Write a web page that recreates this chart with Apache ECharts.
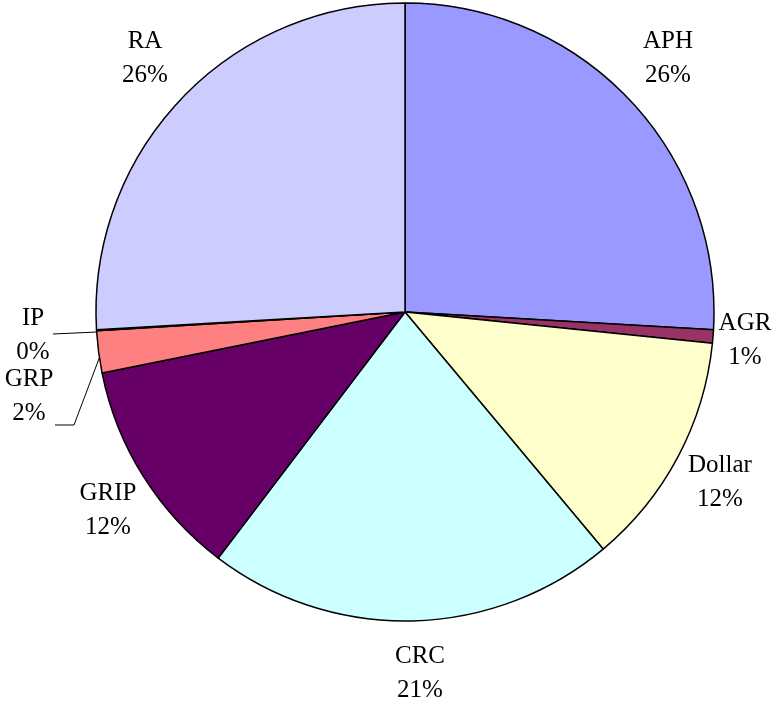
<!DOCTYPE html>
<html style="height: 100%">
<head>
    <meta charset="utf-8">
    <script src="https://cdn.jsdelivr.net/npm/echarts@6/dist/echarts.min.js"></script>
</head>
<body style="height: 100%; margin: 0; background: #fff">
    <div id="main" style="width:779px;height:704px;"></div>
    <script type="text/javascript">
        // data, clockwise from 12 o'clock
        var names = ['APH', 'AGR', 'Dollar', 'CRC', 'GRIP', 'GRP', 'IP', 'RA'];
        var shares = [25.9, 0.7, 12.3, 21.4, 11.5, 2.2, 0.05, 25.9];
        var colors = ['#9999FF', '#993366', '#FFFFCC', '#CCFFFF', '#660066', '#FF8080', '#0066CC', '#CCCCFF'];

        // where each label sits (centre of the two-line text)
        var labelPos = [[668, 58], [745, 340], [720, 482], [420, 673], [108, 510], [29, 396], [33, 335], [145, 58]];
        var linePts = {
            5: [[55, 425], [74, 425], [100, 356]],
            6: [[53, 334], [97, 332]]
        };

        var myChart = echarts.init(document.getElementById('main'));
        var data = [];
        for (var i = 0; i < names.length; i++) {
            data.push({
                name: names[i],
                value: shares[i],
                itemStyle: { color: colors[i] },
                labelLine: { show: !!linePts[i] }
            });
        }

        var option = {
            animation: false,
            series: [{
                type: 'pie',
                center: [405, 312],
                radius: 309,
                startAngle: 90,
                clockwise: true,
                avoidLabelOverlap: false,
                data: data,
                itemStyle: { borderColor: '#000', borderWidth: 1.5 },
                emphasis: { disabled: true },
                label: {
                    show: true,
                    position: 'outside',
                    fontFamily: 'Liberation Serif',
                    fontSize: 25,
                    lineHeight: 34,
                    color: '#000',
                    formatter: function (p) {
                        return p.name + '\n' + Math.round(p.percent) + '%';
                    }
                },
                labelLine: {
                    lineStyle: { color: '#000', width: 1 },
                    length: 10,
                    length2: 10
                },
                labelLayout: function (p) {
                    var pos = labelPos[p.dataIndex];
                    var r = {
                        x: pos[0],
                        y: pos[1],
                        align: 'center',
                        verticalAlign: 'middle'
                    };
                    if (linePts[p.dataIndex]) r.labelLinePoints = linePts[p.dataIndex];
                    return r;
                }
            }]
        };
        myChart.setOption(option);
    </script>
</body>
</html>
